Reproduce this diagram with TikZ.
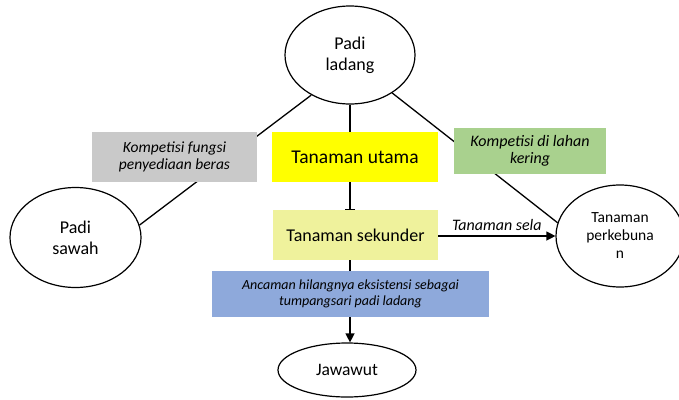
\documentclass[tikz,border=0pt]{standalone}
\usepackage{fontspec}
\setmainfont{Carlito}
\usetikzlibrary{shapes.geometric,arrows.meta,backgrounds}
\definecolor{boxgray}{HTML}{C9C9C9}
\definecolor{boxyellow}{HTML}{FFFF00}
\definecolor{boxpale}{HTML}{EFF29C}
\definecolor{boxgreen}{HTML}{A9D18E}
\definecolor{boxblue}{HTML}{8EA9DB}
\tikzset{
  oval/.style={ellipse, draw, line width=1.2pt, fill=white, inner sep=0pt, align=center, font=\fontsize{18}{21}\selectfont},
  colbox/.style={rectangle, inner sep=0pt, align=center},
  itxt/.style={font=\fontsize{15.5}{17}\selectfont\itshape},
  conn/.style={line width=1.3pt},
}
\begin{document}
\begin{tikzpicture}[x=1pt,y=-1pt]
\useasboundingbox (0,0) rectangle (679,399);
\clip (0,0) rectangle (679,399);
% nodes
\node[oval, minimum width=130pt, minimum height=98pt] (PL) at (350,55) {Padi\\ladang};
\node[oval, minimum width=131pt, minimum height=100pt] (PS) at (75.5,237.5) {Padi\\sawah};
\node[oval, minimum width=128pt, minimum height=102pt, font=\fontsize{15.5}{18}\selectfont] (TP) at (620,236) {Tanaman\\perkebuna\\n};
\node[oval, minimum width=138pt, minimum height=54pt, font=\fontsize{17.5}{21}\selectfont] (JW) at (347,370) {Jawawut};
\node[colbox, fill=boxgray, minimum width=165pt, minimum height=50pt, itxt] (KF) at (174.5,157) {Kompetisi fungsi\\penyediaan beras};
\node[colbox, fill=boxyellow, minimum width=166pt, minimum height=50pt, font=\fontsize{19.5}{21}\selectfont] (TU) at (355,157) {Tanaman utama};
\node[colbox, fill=boxgreen, minimum width=152pt, minimum height=46pt, itxt, font=\fontsize{16}{17}\selectfont\itshape] (KL) at (530,151) {Kompetisi di lahan\\kering};
\node[colbox, fill=boxpale, minimum width=165pt, minimum height=50pt, font=\fontsize{18}{21}\selectfont] (TS) at (355.5,235) {Tanaman sekunder};
\node[colbox, fill=boxblue, minimum width=277pt, minimum height=46pt, font=\fontsize{14}{16.5}\selectfont\itshape] (AH) at (350.5,294) {Ancaman hilangnya eksistensi sebagai\\tumpangsari padi ladang};
% connectors
\begin{scope}[on background layer]
\draw[conn] (PL.226) -- (PS.11);
\draw[conn] (PL.318) -- (TP.168);
\end{scope}
\draw[conn] (PL.south) -- (PL.south |- TU.north);
\draw[conn, -{Bar[width=10pt,line width=1.2pt]}] (TU.south -| PL.south) -- (TS.north -| PL.south);
\draw[conn] (TS.south -| PL.south) -- (AH.north -| PL.south);
\draw[conn, -{Triangle[length=9pt,width=9pt]}] (AH.south -| PL.south) -- (JW.north -| PL.south);
\draw[conn, -{Triangle[length=9pt,width=9pt]}] (TS.east |- TP.west) -- node[above=1pt, font=\fontsize{16}{17}\selectfont\itshape] {Tanaman sela} (TP.west);
\end{tikzpicture}
\end{document}
